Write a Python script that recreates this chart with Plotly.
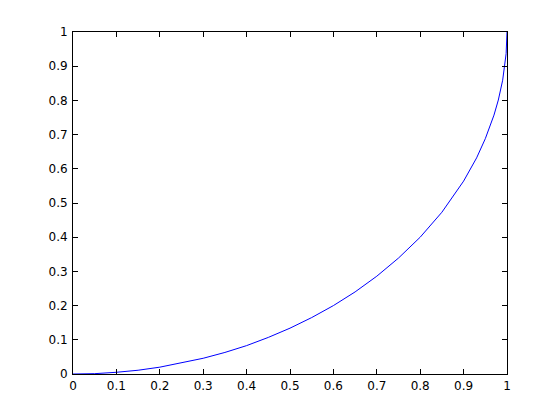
import plotly.graph_objects as go

# values
x_vals = [0, 0.05, 0.1, 0.15, 0.2, 0.25, 0.3, 0.35, 0.4, 0.45, 0.5, 0.55, 0.6, 0.65,
          0.7, 0.75, 0.8, 0.85, 0.9, 0.93, 0.95, 0.97, 0.98, 0.99, 0.995, 0.998, 1.0]
y_vals = [0, 0.001, 0.005, 0.011, 0.02, 0.032, 0.046, 0.063, 0.083, 0.107, 0.134, 0.165,
          0.2, 0.24, 0.286, 0.339, 0.4, 0.473, 0.564, 0.632, 0.688, 0.757, 0.801, 0.859,
          0.9, 0.937, 1.0]
tick_vals = [i / 10 for i in range(11)]
tick_text = ['0', '0.1', '0.2', '0.3', '0.4', '0.5', '0.6', '0.7', '0.8', '0.9', '1']

fig = go.Figure()
fig.add_trace(go.Scatter(x=x_vals, y=y_vals, mode='lines',
                         line=dict(color='#0000ff', width=1), showlegend=False))

axis_style = dict(range=[0, 1], tickvals=tick_vals, ticktext=tick_text,
                  ticks='inside', ticklen=5, tickcolor='black', mirror='ticks',
                  showline=True, linecolor='black', linewidth=1,
                  showgrid=False, zeroline=False,
                  tickfont=dict(family='DejaVu Sans', size=12, color='black'))

fig.update_layout(width=560, height=420,
                  margin=dict(l=65, r=61, t=24, b=54),
                  paper_bgcolor='white', plot_bgcolor='white',
                  xaxis=dict(axis_style, ticklabelstandoff=1),
                  yaxis=dict(axis_style, ticklabelstandoff=2))

fig.write_html("out.html")
